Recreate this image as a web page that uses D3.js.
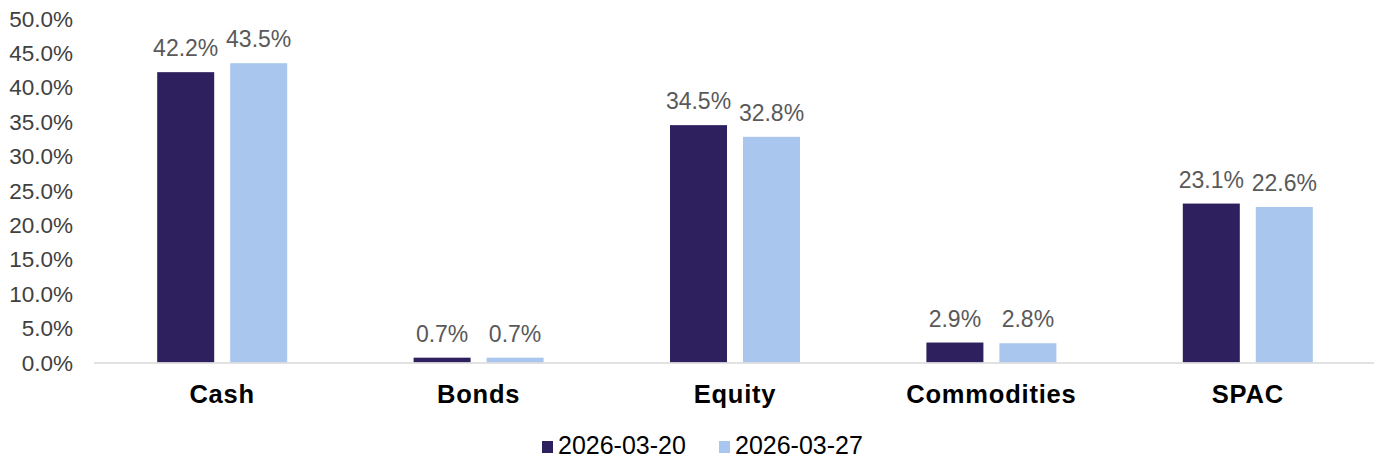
<!DOCTYPE html>
<html>
<head>
<meta charset="utf-8">
<script src="https://cdn.jsdelivr.net/npm/d3@7"></script>
<style>
  html, body { margin: 0; padding: 0; background: #fff; }
  svg { display: block; font-family: Arial, "Liberation Sans", sans-serif; }
  .tick-label { font-size: 22.5px; fill: #404040; }
  .value-label { font-size: 23px; fill: #595959; }
  .cat-label { font-size: 25.5px; font-weight: bold; fill: #000; letter-spacing: 0.8px; }
  .legend-label { font-size: 25px; fill: #000; }
</style>
</head>
<body>
<svg id="chart" width="1374" height="459"></svg>
<script>
// 資産配分の比較(2週分)
const categories = ["Cash", "Bonds", "Equity", "Commodities", "SPAC"];
const seriesNames = ["2026-03-20", "2026-03-27"];
const valuesA = [42.2, 0.7, 34.5, 2.9, 23.1];
const valuesB = [43.5, 0.7, 32.8, 2.8, 22.6];
const yTicks = [0, 5, 10, 15, 20, 25, 30, 35, 40, 45, 50];

const COLOR = { "2026-03-20": "#2e205e", "2026-03-27": "#a8c6ee" };

const svg = d3.select("#chart");
const plot = { left: 94, right: 1376, top: 18.5, bottom: 362.5 };

const x0 = d3.scaleBand().domain(categories).range([plot.left, plot.right]).padding(0);
const bw = x0.bandwidth();
const x1 = d3.scaleBand().domain(seriesNames).range([bw / 2 - 65, bw / 2 + 65]).paddingInner(0.219);
const y = d3.scaleLinear().domain([0, 50]).range([plot.bottom, plot.top]);

const rows = categories.map((c, i) => ({
  cat: c,
  vals: [
    { s: seriesNames[0], v: valuesA[i] },
    { s: seriesNames[1], v: valuesB[i] },
  ],
}));

// ---------- Y 軸ラベル ----------
svg.append("g")
  .selectAll("text")
  .data(yTicks)
  .join("text")
  .attr("class", "tick-label")
  .attr("x", 73)
  .attr("y", (d) => y(d))
  .attr("dy", "0.36em")
  .attr("text-anchor", "end")
  .text((d) => d.toFixed(1) + "%");

// ---------- 棒 ----------
const groups = svg.append("g")
  .selectAll("g")
  .data(rows)
  .join("g")
  .attr("transform", (d) => `translate(${x0(d.cat)},0)`);

groups.selectAll("rect")
  .data((d) => d.vals)
  .join("rect")
  .attr("x", (d) => x1(d.s))
  .attr("y", (d) => y(d.v))
  .attr("width", x1.bandwidth())
  .attr("height", (d) => y(0) - y(d.v))
  .attr("fill", (d) => COLOR[d.s]);

groups.selectAll("text.value-label")
  .data((d) => d.vals)
  .join("text")
  .attr("class", "value-label")
  .attr("x", (d) => x1(d.s) + x1.bandwidth() / 2)
  .attr("y", (d) => y(d.v) - 16)
  .attr("text-anchor", "middle")
  .text((d) => d.v.toFixed(1) + "%");

// ---------- X 軸 ----------
svg.append("line")
  .attr("x1", plot.left)
  .attr("x2", plot.right)
  .attr("y1", y(0) + 0.5)
  .attr("y2", y(0) + 0.5)
  .attr("stroke", "#d9d9d9")
  .attr("stroke-width", 1.5);

svg.append("g")
  .selectAll("text")
  .data(categories)
  .join("text")
  .attr("class", "cat-label")
  .attr("x", (d) => x0(d) + bw / 2)
  .attr("y", 403)
  .attr("text-anchor", "middle")
  .text((d) => d);

// ---------- 凡例 ----------
const legendX = [542, 719];
const legend = svg.append("g")
  .selectAll("g")
  .data(seriesNames)
  .join("g")
  .attr("transform", (d, i) => `translate(${legendX[i]},0)`);

legend.append("rect")
  .attr("x", 0)
  .attr("y", 441)
  .attr("width", 11)
  .attr("height", 12)
  .attr("fill", (d) => COLOR[d]);

legend.append("text")
  .attr("class", "legend-label")
  .attr("x", 16)
  .attr("y", 454)
  .text((d) => d);
</script>
</body>
</html>
